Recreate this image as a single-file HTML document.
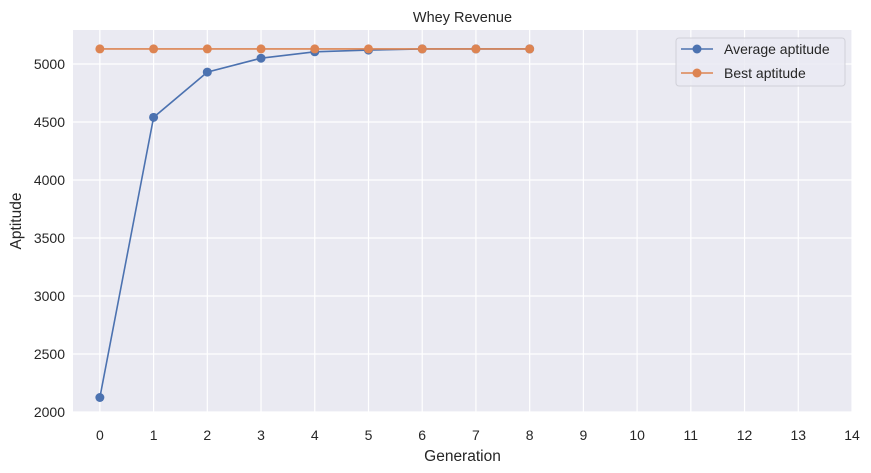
<!DOCTYPE html>
<html><head><meta charset="utf-8"><style>
body{margin:0;background:#fff;}
svg{display:block;font-family:"Liberation Sans","DejaVu Sans",sans-serif;}
</style></head><body>
<svg id="chart" width="871" height="473" xmlns="http://www.w3.org/2000/svg"></svg>
<script>
const generations = [0,1,2,3,4,5,6,7,8];
const averageAptitude = [2125,4540,4930,5050,5105,5120,5130,5130,5130];
const bestAptitude = [5130,5130,5130,5130,5130,5130,5130,5130,5130];
const xTicks = [0,1,2,3,4,5,6,7,8,9,10,11,12,13,14];
const yTicks = [2000,2500,3000,3500,4000,4500,5000];

const L=73,R=852,T=30,B=412;
const xMin=-0.5,xMax=14,yMin=2000,yMax=5293;
const xs=v=>L+(v-xMin)/(xMax-xMin)*(R-L);
const ys=v=>B-(v-yMin)/(yMax-yMin)*(B-T);
const NS="http://www.w3.org/2000/svg";
const svg=document.getElementById('chart');
function mk(tag,attrs,parent){const e=document.createElementNS(NS,tag);for(const k in attrs)e.setAttribute(k,attrs[k]);(parent||svg).appendChild(e);return e;}

const bg=mk('rect',{x:L,y:T,width:R-L,height:B-T,fill:'#eaeaf2'});



xTicks.forEach(t=>{
  const g=mk('line',{x1:xs(t),x2:xs(t),y1:T,y2:B,stroke:'#fff','stroke-width':1.2});
  
  
  const tx=mk('text',{x:xs(t),y:B+28,'text-anchor':'middle','font-size':14,fill:'#262626'});
  tx.textContent=t;
  
  
});
yTicks.forEach(t=>{
  const g=mk('line',{x1:L,x2:R,y1:ys(t),y2:ys(t),stroke:'#fff','stroke-width':1.2});
  
  
  const tx=mk('text',{x:L-8,y:ys(t)+5,'text-anchor':'end','font-size':14,fill:'#262626'});
  tx.textContent=t;
  
  
});

function series(vals,color,name){
  const pts=generations.map((g,i)=>xs(g)+','+ys(vals[i])).join(' ');
  const pl=mk('polyline',{points:pts,fill:'none',stroke:color,'stroke-width':1.6});
  
  
  generations.forEach((g,i)=>{
    const c=mk('circle',{cx:xs(g),cy:ys(vals[i]),r:4.5,fill:color});
    
    
  });
}
series(averageAptitude,'#4c72b0','average-aptitude');
series(bestAptitude,'#dd8452','best-aptitude');

const title=mk('text',{x:(L+R)/2,y:22,'text-anchor':'middle','font-size':14.5,fill:'#262626'});
title.textContent='Whey Revenue';


const xl=mk('text',{x:(L+R)/2,y:461,'text-anchor':'middle','font-size':15.5,fill:'#262626'});
xl.textContent='Generation';


const yl=mk('text',{x:21,y:(T+B)/2,'text-anchor':'middle','font-size':15.5,fill:'#262626',transform:'rotate(-90 21 '+((T+B)/2)+')'});
yl.textContent='Aptitude';



const lg=mk('g',{});


mk('rect',{x:676,y:38,width:169,height:48,rx:3,fill:'#eaeaf2','fill-opacity':0.8,stroke:'#d0d0d8'},lg);
[['Average aptitude','#4c72b0',49],['Best aptitude','#dd8452',73]].forEach(([lab,col,y])=>{
  const e=mk('g',{},lg);
  
  
  mk('line',{x1:681,x2:713,y1:y,y2:y,stroke:col,'stroke-width':1.6},e);
  mk('circle',{cx:697,cy:y,r:4.5,fill:col},e);
  const t=mk('text',{x:724,y:y+5,'font-size':14,fill:'#262626'},e);
  t.textContent=lab;
});
</script>
</body></html>
